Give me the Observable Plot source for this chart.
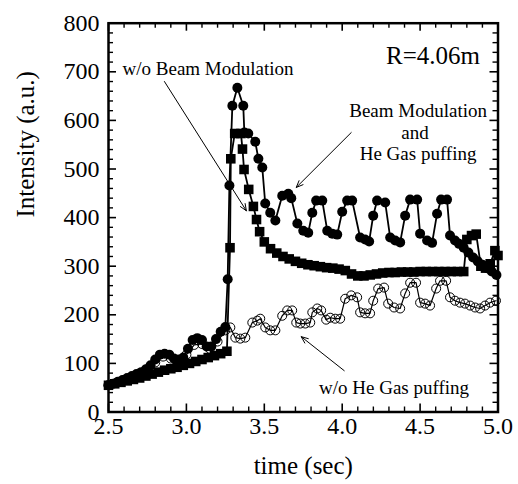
<!DOCTYPE html>
<html><head><meta charset="utf-8">
<script src="https://cdn.jsdelivr.net/npm/d3@7"></script>
<script src="https://cdn.jsdelivr.net/npm/@observablehq/plot@0.6"></script>
<style>
body{margin:0;background:#fff}
svg, svg text { font-family: "Liberation Serif", "Times New Roman", "DejaVu Serif", serif !important; }
</style>
</head><body><div id="chart"></div>
<script>
// Beam Modulation and He Gas puffing (filled circles)
const modT = [2.50,2.53,2.56,2.59,2.62,2.65,2.68,2.71,2.74,2.77,2.80,2.83,2.86,2.89,2.92,2.95,2.98,3.01,3.04,3.07,3.10,3.13,3.16,3.19,3.22,3.25,
  3.265,3.276,3.295,3.327,3.365,3.372,3.397,3.442,3.462,3.487,3.506,3.538,3.571,3.615,3.654,3.673,3.712,3.75,3.782,3.808,3.833,3.872,3.904,3.936,3.968,
  4.0,4.032,4.064,4.115,4.147,4.173,4.199,4.224,4.276,4.308,4.34,4.372,4.404,4.436,4.481,4.5,4.545,4.577,4.609,4.635,4.673,4.692,4.724,4.75,4.78,4.81,4.84,4.87,4.90,4.93,4.96,4.99];
const modV = [55,58,62,66,70,74,78,82,88,96,108,118,120,118,110,108,112,130,148,152,148,135,135,150,165,175,
  273,466,630,667,630,575,573,556,521,503,429,410,394,445,449,440,388,373,369,410,435,435,373,367,365,
  412,435,435,359,355,351,404,435,431,359,353,349,404,437,437,367,353,348,408,437,437,363,353,346,338,328,318,310,303,296,289,282];

// w/o Beam Modulation (filled squares)
const sqT = [2.50,2.54,2.58,2.62,2.66,2.70,2.74,2.78,2.82,2.86,2.90,2.94,2.98,3.02,3.06,3.10,3.14,3.18,3.22,3.26,
  3.28,3.285,3.31,3.35,3.36,3.37,3.40,3.43,3.45,3.47,3.50,3.54,3.58,3.62,3.66,3.70,3.74,3.78,3.82,3.86,3.90,3.94,3.98,
  4.02,4.06,4.10,4.14,4.18,4.22,4.26,4.30,4.34,4.38,4.42,4.46,4.50,4.54,4.58,4.62,4.66,4.70,4.74,4.78,
  4.80,4.83,4.86,4.89,4.92,4.95,4.98,5.00];
const sqV = [55,58,61,64,67,70,74,78,82,86,89,92,96,100,104,108,112,116,120,125,
  338,521,573,573,541,499,458,423,396,371,350,336,327,320,315,310,306,303,301,299,297,296,294,
  291,284,280,280,282,284,286,287,287,288,288,288,289,289,289,289,289,289,289,289,
  355,363,366,300,296,305,332,322];

// w/o He Gas puffing (open circles)
const openT = [2.50,2.55,2.60,2.65,2.70,2.75,2.80,2.85,2.90,2.95,3.00,3.05,3.10,3.15,3.20,3.25,
  3.282,3.314,3.346,3.378,3.423,3.455,3.474,3.506,3.538,3.571,3.615,3.647,3.679,3.705,3.731,3.763,3.795,3.808,3.84,3.865,3.897,3.923,3.955,3.987,
  4.019,4.058,4.096,4.115,4.147,4.179,4.199,4.231,4.269,4.295,4.333,4.372,4.404,4.436,4.474,4.5,4.532,4.564,4.603,4.628,4.667,4.692,4.724,4.756,4.788,4.821,4.853,4.885,4.917,4.949,4.987];
const openV = [55,60,66,72,79,88,102,114,110,106,118,138,140,130,145,168,
  174,153,151,153,184,188,192,174,168,168,198,209,209,184,182,182,184,205,213,209,190,194,192,192,
  233,240,236,205,203,203,229,254,256,223,215,213,244,266,266,225,223,219,254,270,270,236,229,225,223,219,215,213,219,225,229];

const xMajor = [2.5,3.0,3.5,4.0,4.5,5.0];
const xMinor = [2.6,2.7,2.8,2.9,3.1,3.2,3.3,3.4,3.6,3.7,3.8,3.9,4.1,4.2,4.3,4.4,4.6,4.7,4.8,4.9];
const yMajor = [0,100,200,300,400,500,600,700,800];
const yMinor = [20,40,60,80,120,140,160,180,220,240,260,280,320,340,360,380,420,440,460,480,520,540,560,580,620,640,660,680,720,740,760,780];

// annotations (data units)
const startLabels = [{text: "w/o Beam Modulation", t: 2.59, v: 694}];
const endLabels = [{text: "R=4.06m", t: 4.885, v: 717}];
const middleLabels = [
  {text: "Beam Modulation", t: 4.487, v: 606},
  {text: "and", t: 4.467, v: 562},
  {text: "He Gas puffing", t: 4.487, v: 519},
  {text: "w/o He Gas puffing", t: 4.333, v: 38}
];
const arrowFromT = [2.859,4.058,4.013], arrowFromV = [680,575,85];
const arrowToT = [3.385,3.705,3.737], arrowToV = [414,462,155];
const xTitle = "time (sec)", yTitle = "Intensity (a.u.)";

const W = 518, H = 484, mL = 108, mR = 20.5, mT = 22.7, mB = 72.5;
const plotW = W - mL - mR, plotH = H - mT - mB;
const rows = (t, v) => t.map((x, i) => ({t: x, v: v[i]}));
const modRows = rows(modT, modV), sqRows = rows(sqT, sqV), openRows = rows(openT, openV);
const arrows = arrowFromT.map((d, i) => ({x1: d, y1: arrowFromV[i], x2: arrowToT[i], y2: arrowToV[i]}));
const font = "Liberation Serif, Times New Roman, serif";

const chart = Plot.plot({
  width: W, height: H, marginLeft: mL, marginRight: mR, marginTop: mT, marginBottom: mB,
  x: {domain: [2.5, 5.0], label: null},
  y: {domain: [0, 800], label: null},
  style: {fontFamily: font, fontSize: "24px", background: "#fff", color: "#000"},
  marks: [
    Plot.line(openRows, {x: "t", y: "v", stroke: "#000", strokeWidth: 1.2}),
    Plot.dot(openRows, {x: "t", y: "v", r: 4.5, stroke: "#000", strokeWidth: 1, fill: "none"}),
    Plot.line(sqRows, {x: "t", y: "v", stroke: "#000", strokeWidth: 1.8}),
    Plot.dot(sqRows, {x: "t", y: "v", symbol: "square", r: 5.4, fill: "#000", stroke: "none"}),
    Plot.line(modRows, {x: "t", y: "v", stroke: "#000", strokeWidth: 1.8}),
    Plot.dot(modRows, {x: "t", y: "v", r: 5, fill: "#000", stroke: "none"}),
    // inward ticks on all four sides
    Plot.tickX(xMajor, {x: d => d, insetTop: plotH - 8, strokeWidth: 1.6}),
    Plot.tickX(xMinor, {x: d => d, insetTop: plotH - 5, strokeWidth: 1.4}),
    Plot.tickX(xMajor, {x: d => d, insetBottom: plotH - 8, strokeWidth: 1.6}),
    Plot.tickX(xMinor, {x: d => d, insetBottom: plotH - 5, strokeWidth: 1.4}),
    Plot.tickY(yMajor, {y: d => d, insetRight: plotW - 8, strokeWidth: 1.6}),
    Plot.tickY(yMinor, {y: d => d, insetRight: plotW - 5, strokeWidth: 1.4}),
    Plot.tickY(yMajor, {y: d => d, insetLeft: plotW - 8, strokeWidth: 1.6}),
    Plot.tickY(yMinor, {y: d => d, insetLeft: plotW - 5, strokeWidth: 1.4}),
    Plot.frame({stroke: "#000", strokeWidth: 2.5}),
    Plot.axisX({ticks: xMajor, tickSize: 0, tickPadding: 4.5, tickFormat: d3.format(".1f"), label: null, fontSize: 24}),
    Plot.axisY({ticks: yMajor, tickSize: 0, tickPadding: 9, tickFormat: d3.format("d"), label: null, fontSize: 24}),
    Plot.text([xTitle], {frameAnchor: "bottom", dy: 61.5, lineAnchor: "bottom", fontSize: 25, fill: "#000"}),
    Plot.text([yTitle], {frameAnchor: "left", dx: -75, rotate: -90, lineAnchor: "bottom", fontSize: 25, fill: "#000"}),
    Plot.text(startLabels, {x: "t", y: "v", text: "text", textAnchor: "start", lineAnchor: "bottom", fontSize: 19, fill: "#000"}),
    Plot.text(endLabels, {x: "t", y: "v", text: "text", textAnchor: "end", lineAnchor: "bottom", fontSize: 25, fill: "#000"}),
    Plot.text(middleLabels, {x: "t", y: "v", text: "text", textAnchor: "middle", lineAnchor: "bottom", fontSize: 19, fill: "#000"}),
    Plot.arrow(arrows, {x1: "x1", y1: "y1", x2: "x2", y2: "y2", stroke: "#000", strokeWidth: 1, headLength: 11, headAngle: 45, inset: 0})
  ]
});
document.getElementById("chart").appendChild(chart);
</script>
</body></html>
